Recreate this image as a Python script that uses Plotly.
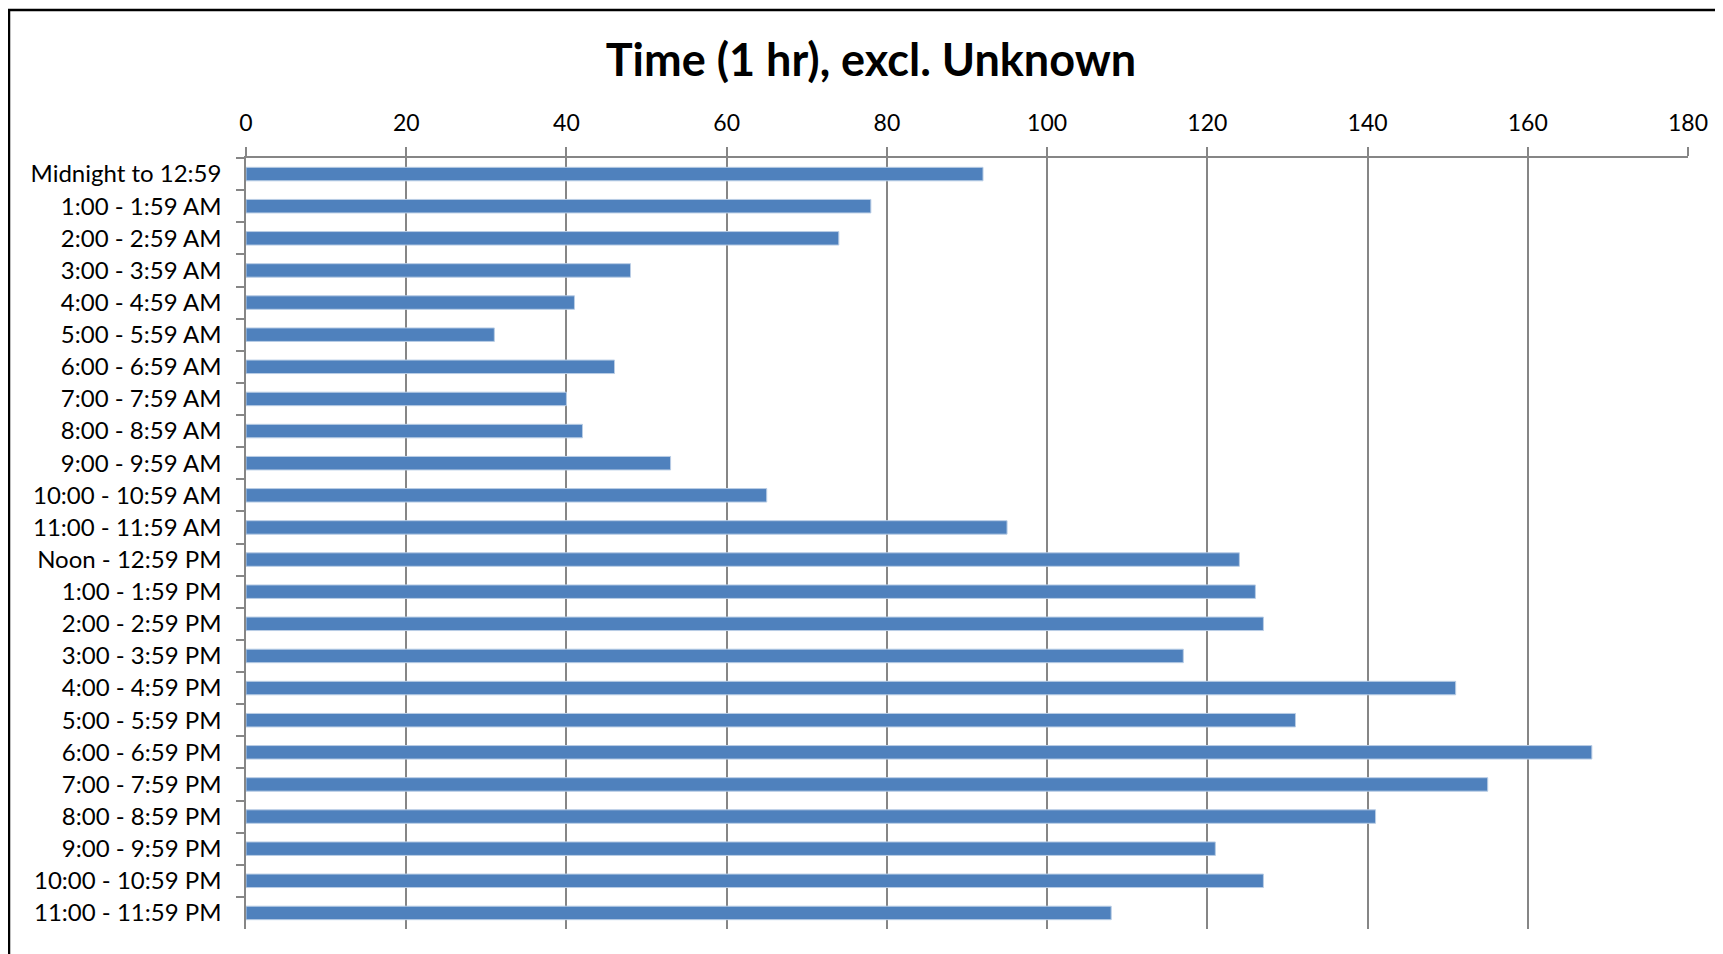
import plotly.graph_objects as go

categories = [
    "Midnight to 12:59", "1:00 - 1:59 AM", "2:00 - 2:59 AM", "3:00 - 3:59 AM",
    "4:00 - 4:59 AM", "5:00 - 5:59 AM", "6:00 - 6:59 AM", "7:00 - 7:59 AM",
    "8:00 - 8:59 AM", "9:00 - 9:59 AM", "10:00 - 10:59 AM", "11:00 - 11:59 AM",
    "Noon - 12:59 PM", "1:00 - 1:59 PM", "2:00 - 2:59 PM", "3:00 - 3:59 PM",
    "4:00 - 4:59 PM", "5:00 - 5:59 PM", "6:00 - 6:59 PM", "7:00 - 7:59 PM",
    "8:00 - 8:59 PM", "9:00 - 9:59 PM", "10:00 - 10:59 PM", "11:00 - 11:59 PM",
]
values = [92, 78, 74, 48, 41, 31, 46, 40, 42, 53, 65, 95,
          124, 126, 127, 117, 151, 131, 168, 155, 141, 121, 127, 108]
x_ticks = [0, 20, 40, 60, 80, 100, 120, 140, 160, 180]

W, H = 1723, 954
ml, mr, mt, mb = 238, 43, 150, 33

fig = go.Figure(go.Bar(
    x=values, y=categories, orientation="h",
    marker=dict(color="#4F81BD", line=dict(color="#B9CDE5", width=1)),
))

grid = "#868686"
fig.update_layout(
    width=W, height=H,
    margin=dict(l=ml, r=mr, t=mt, b=mb),
    paper_bgcolor="white", plot_bgcolor="white",
    bargap=0.58,
    showlegend=False,
    font=dict(family="Lato, Carlito, sans-serif", size=24, color="black"),
    title=dict(text="<b>Time (1 hr), excl. Unknown</b>",
               x=863 / W, xanchor="center",
               y=1 - 52 / H, yanchor="middle", yref="container",
               font=dict(family="Lato, sans-serif", size=45, color="black")),
    xaxis=dict(side="top", range=[0, 180], tickvals=x_ticks,
               showgrid=True, gridcolor=grid, gridwidth=1.5,
               showline=True, linecolor=grid, linewidth=1.5,
               ticks="outside", ticklen=9, tickcolor=grid, tickwidth=1.5,
               ticklabelstandoff=7,
               zeroline=False, fixedrange=True,
               tickfont=dict(size=23)),
    yaxis=dict(autorange="reversed", type="category",
               showgrid=False, showline=True, linecolor=grid, linewidth=1.5,
               ticks="outside", ticklen=8, tickcolor=grid, tickwidth=1.5,
               tickson="boundaries", ticklabelstandoff=18,
               tickfont=dict(size=24)),
)

pw = W - ml - mr
ph = H - mt - mb
fig.add_shape(type="rect", xref="paper", yref="paper",
              x0=(1 - ml) / pw, x1=1.2,
              y0=-0.2, y1=(H - 2 - mb) / ph,
              line=dict(color="black", width=2.5), fillcolor="rgba(0,0,0,0)",
              layer="above")

fig.write_html("out.html")
